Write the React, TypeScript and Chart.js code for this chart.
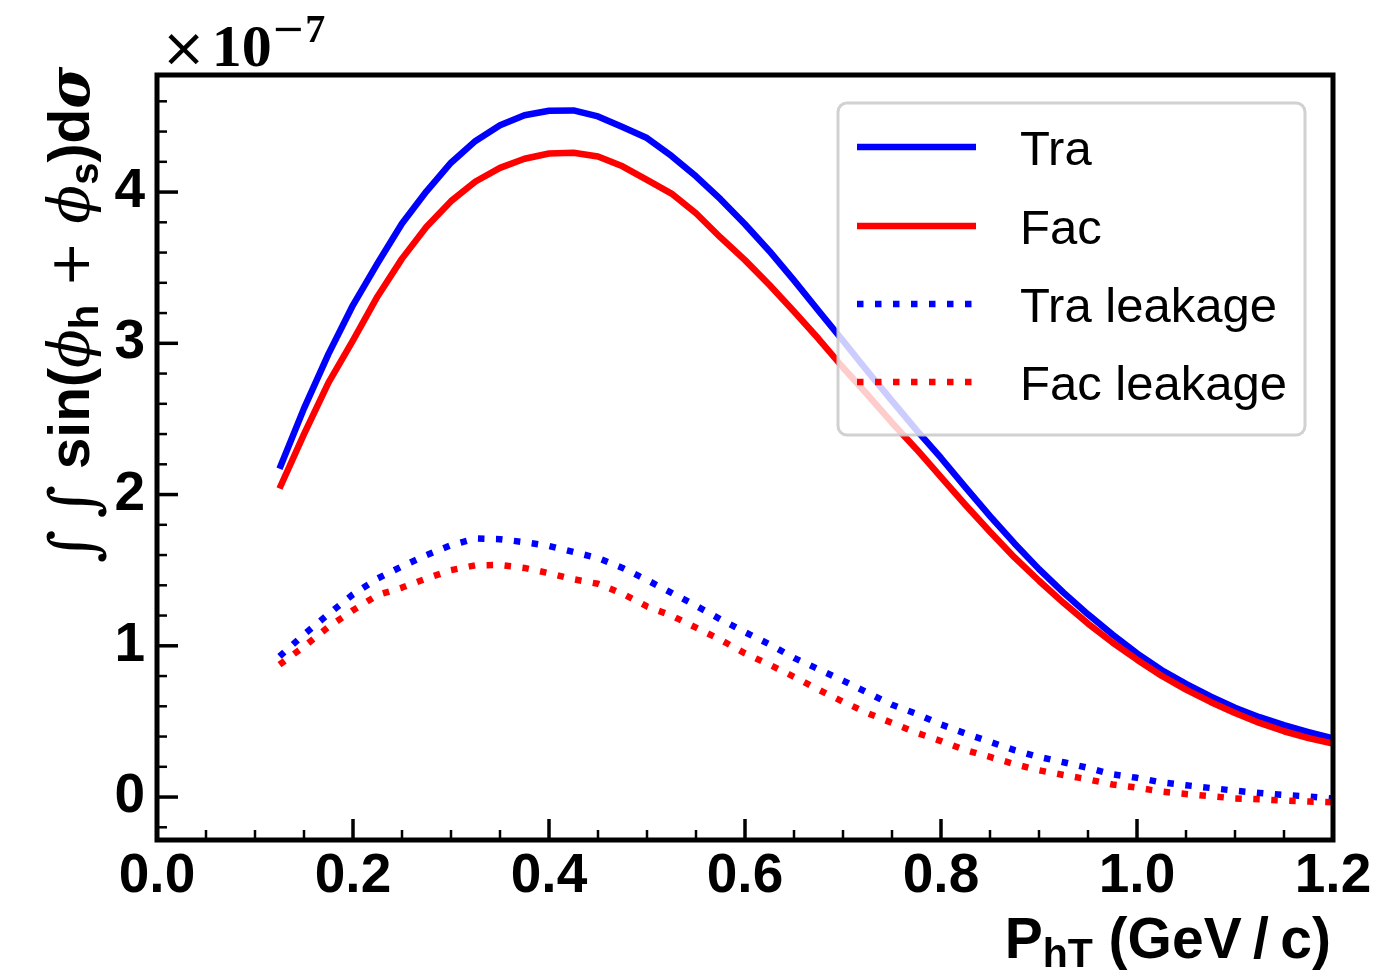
import React, { useEffect, useRef } from 'react';
import { Chart, registerables } from 'chart.js';

Chart.register(...registerables);

// ---------- data ----------
const pT = [
  0.125, 0.15, 0.175, 0.2, 0.225, 0.25, 0.275, 0.3, 0.325, 0.35, 0.375, 0.4, 0.425, 0.45, 0.475,
  0.5, 0.525, 0.55, 0.575, 0.6, 0.625, 0.65, 0.675, 0.7, 0.725, 0.75, 0.775, 0.8, 0.825, 0.85,
  0.875, 0.9, 0.925, 0.95, 0.975, 1.0, 1.025, 1.05, 1.075, 1.1, 1.125, 1.15, 1.175, 1.2,
];
const tra = [
  2.17, 2.57, 2.93, 3.253, 3.528, 3.792, 4.005, 4.194, 4.338, 4.441, 4.508, 4.538, 4.54, 4.5, 4.43,
  4.357, 4.239, 4.104, 3.953, 3.787, 3.609, 3.416, 3.215, 3.017, 2.815, 2.619, 2.426, 2.242, 2.047, 1.858,
  1.677, 1.507, 1.352, 1.208, 1.075, 0.95, 0.84, 0.748, 0.665, 0.59, 0.528, 0.475, 0.43, 0.388,
];
const fac = [
  2.04, 2.4, 2.74, 3.02, 3.31, 3.56, 3.77, 3.94, 4.07, 4.16, 4.22, 4.255, 4.26, 4.235, 4.17,
  4.08, 3.99, 3.86, 3.7, 3.55, 3.385, 3.21, 3.03, 2.84, 2.66, 2.475, 2.3, 2.115, 1.931, 1.754,
  1.584, 1.43, 1.284, 1.147, 1.022, 0.908, 0.802, 0.71, 0.629, 0.556, 0.49, 0.435, 0.39, 0.353,
];
const traLeak = [
  0.93, 1.075, 1.21, 1.34, 1.445, 1.525, 1.6, 1.665, 1.71, 1.705, 1.685, 1.66, 1.62, 1.58, 1.515,
  1.435, 1.35, 1.265, 1.175, 1.09, 1.01, 0.92, 0.845, 0.77, 0.69, 0.61, 0.55, 0.48, 0.42, 0.365,
  0.31, 0.265, 0.23, 0.193, 0.15, 0.127, 0.097, 0.078, 0.06, 0.042, 0.027, 0.014, 0.004, -0.01,
];
const facLeak = [
  0.875, 0.995, 1.125, 1.235, 1.335, 1.385, 1.445, 1.5, 1.532, 1.534, 1.515, 1.48, 1.44, 1.41, 1.345,
  1.26, 1.2, 1.12, 1.04, 0.95, 0.875, 0.795, 0.71, 0.63, 0.555, 0.49, 0.425, 0.37, 0.31, 0.265,
  0.218, 0.177, 0.146, 0.117, 0.083, 0.062, 0.036, 0.02, 0.006, -0.009, -0.015, -0.023, -0.03, -0.035,
];
const seriesLabels = ['Tra', 'Fac', 'Tra leakage', 'Fac leakage'];
const xTickValues = [0, 0.2, 0.4, 0.6, 0.8, 1.0, 1.2];
const yTickValues = [0, 1, 2, 3, 4];
const X_RANGE = [0, 1.2];
const Y_RANGE = [-0.284, 4.774];

// ---------- style ----------
const W = 1383;
const H = 975;

type Piece = { t: string; font: string; dy?: number };

function drawPieces(ctx: CanvasRenderingContext2D, pieces: Piece[], x: number, y: number, align: 'left' | 'center' | 'right') {
  ctx.save();
  ctx.textBaseline = 'alphabetic';
  ctx.textAlign = 'left';
  let total = 0;
  const widths = pieces.map((p) => {
    ctx.font = p.font;
    const w = ctx.measureText(p.t).width;
    total += w;
    return w;
  });
  let cx = align === 'left' ? x : align === 'center' ? x - total / 2 : x - total;
  pieces.forEach((p, i) => {
    ctx.font = p.font;
    ctx.fillText(p.t, cx, y + (p.dy || 0));
    cx += widths[i];
  });
  ctx.restore();
}

const decorPlugin = {
  id: 'decor',
  afterDraw(chart: any) {
    const ctx: CanvasRenderingContext2D = chart.ctx;
    const { left, right, top, bottom } = chart.chartArea;
    const xs = chart.scales.x;
    const ys = chart.scales.y;

    ctx.save();
    ctx.fillStyle = '#000';
    ctx.strokeStyle = '#000';
    ctx.lineCap = 'butt';

    // minor + major ticks pointing inward
    const drawXTick = (v: number, len: number, lw: number) => {
      const px = xs.getPixelForValue(v);
      ctx.lineWidth = lw;
      ctx.beginPath();
      ctx.moveTo(px, bottom);
      ctx.lineTo(px, bottom - len);
      ctx.stroke();
    };
    const drawYTick = (v: number, len: number, lw: number) => {
      const py = ys.getPixelForValue(v);
      ctx.lineWidth = lw;
      ctx.beginPath();
      ctx.moveTo(left, py);
      ctx.lineTo(left + len, py);
      ctx.stroke();
    };
    for (let k = 0; k <= 24; k++) {
      const v = k * 0.05;
      if (k % 4 === 0) drawXTick(v, 21, 3.5);
      else drawXTick(v, 10, 2.5);
    }
    for (let k = -1; k <= 23; k++) {
      const v = k * 0.2;
      if (v < Y_RANGE[0] || v > Y_RANGE[1]) continue;
      if (k % 5 === 0) drawYTick(v, 21, 3.5);
      else drawYTick(v, 10, 2.5);
    }

    // frame
    ctx.lineWidth = 5;
    ctx.strokeRect(left, top, right - left, bottom - top);

    // legend
    const lx = 838, ly = 103, lw = 467, lh = 332, r = 9;
    ctx.beginPath();
    ctx.moveTo(lx + r, ly);
    ctx.arcTo(lx + lw, ly, lx + lw, ly + lh, r);
    ctx.arcTo(lx + lw, ly + lh, lx, ly + lh, r);
    ctx.arcTo(lx, ly + lh, lx, ly, r);
    ctx.arcTo(lx, ly, lx + lw, ly, r);
    ctx.closePath();
    ctx.fillStyle = 'rgba(255,255,255,0.8)';
    ctx.fill();
    ctx.lineWidth = 3;
    ctx.strokeStyle = 'rgba(204,204,204,0.9)';
    ctx.stroke();

    const rows = [147, 226, 304, 382];
    chart.data.datasets.forEach((ds: any, i: number) => {
      const y = rows[i];
      ctx.save();
      ctx.strokeStyle = ds.borderColor;
      ctx.lineWidth = ds.borderWidth;
      ctx.setLineDash(ds.borderDash || []);
      ctx.lineCap = 'butt';
      ctx.beginPath();
      ctx.moveTo(857, y);
      ctx.lineTo(976, y);
      ctx.stroke();
      ctx.restore();
      ctx.fillStyle = '#000';
      ctx.font = '49px "Liberation Sans", Arial, sans-serif';
      ctx.textAlign = 'left';
      ctx.textBaseline = 'alphabetic';
      ctx.fillText(ds.label, 1020, y + 18);
    });

    // offset text ×10^-7
    ctx.fillStyle = '#000';
    drawPieces(ctx, [
      { t: '×', font: '54px "DejaVu Sans", sans-serif' },
      { t: '\u200A', font: '54px "DejaVu Sans", sans-serif' },
      { t: '10', font: 'bold 60px "Liberation Serif", serif' },
      { t: '\u2212', font: '40px "DejaVu Sans", sans-serif', dy: -24 },
      { t: '7', font: 'bold 40px "Liberation Serif", serif', dy: -24 },
    ], 161, 66, 'left');

    // x-axis title
    drawPieces(ctx, [
      { t: 'P', font: 'bold 57px "Liberation Sans", sans-serif' },
      { t: 'hT', font: 'bold 41px "Liberation Sans", sans-serif', dy: 9 },
      { t: ' (GeV\u2009/\u2009c)', font: 'bold 57px "Liberation Sans", sans-serif' },
    ], 1331, 958, 'right');

    // y-axis title (rotated)
    ctx.save();
    ctx.translate(89, 315);
    ctx.rotate(-Math.PI / 2);
    drawPieces(ctx, [
      { t: '∫', font: 'italic 64px "DejaVu Serif", serif', dy: 6 },
      { t: '\u2009', font: '57px "Liberation Sans", sans-serif' },
      { t: '∫', font: 'italic 64px "DejaVu Serif", serif', dy: 6 },
      { t: ' ', font: '57px "Liberation Sans", sans-serif' },
      { t: 'sin(', font: 'bold 57px "Liberation Sans", sans-serif' },
      { t: 'ϕ', font: 'italic 57px "DejaVu Serif", serif' },
      { t: 'h', font: 'bold 40px "Liberation Sans", sans-serif', dy: 9 },
      { t: ' + ', font: '55px "DejaVu Sans", sans-serif' },
      { t: 'ϕ', font: 'italic 57px "DejaVu Serif", serif' },
      { t: 's', font: 'bold 40px "Liberation Sans", sans-serif', dy: 9 },
      { t: ')d', font: 'bold 57px "Liberation Sans", sans-serif' },
      { t: 'σ', font: 'italic bold 57px "DejaVu Serif", serif' },
    ], 0, 0, 'center');
    ctx.restore();

    ctx.restore();
  },
};

export default function App() {
  const canvasRef = useRef<HTMLCanvasElement | null>(null);

  useEffect(() => {
    const canvas = canvasRef.current;
    if (!canvas) return;
    const mk = (vals: number[]) => pT.map((x, i) => ({ x, y: vals[i] }));
    const colors = ['#0000ff', '#ff0000', '#0000ff', '#ff0000'];
    const series = [tra, fac, traLeak, facLeak];
    const chart = new Chart(canvas, {
      type: 'line',
      data: {
        datasets: series.map((vals, i) => ({
          label: seriesLabels[i],
          data: mk(vals),
          borderColor: colors[i],
          backgroundColor: colors[i],
          borderWidth: 6.5,
          borderDash: i >= 2 ? [6.5, 11.5] : [],
          borderCapStyle: 'butt',
          borderJoinStyle: 'round',
          pointRadius: 0,
          tension: 0,
          fill: false,
          order: 4 - i,
        })),
      },
      options: {
        responsive: false,
        animation: false,
        devicePixelRatio: 1,
        layout: { padding: { top: 75, right: 50, left: 0, bottom: 0 } },
        plugins: { legend: { display: false }, tooltip: { enabled: false } },
        scales: {
          x: {
            type: 'linear',
            min: X_RANGE[0],
            max: X_RANGE[1],
            grid: { display: false, drawTicks: false },
            border: { display: false },
            afterBuildTicks: (s: any) => {
              s.ticks = xTickValues.map((v) => ({ value: v }));
            },
            afterFit: (s: any) => {
              s.height = H - 840;
            },
            ticks: {
              color: '#000',
              font: { family: '"Liberation Sans", Arial, sans-serif', size: 55, weight: 'bold' },
              padding: 4,
              maxRotation: 0,
              autoSkip: false,
              callback: (v: any) => Number(v).toFixed(1),
            },
          },
          y: {
            type: 'linear',
            min: Y_RANGE[0],
            max: Y_RANGE[1],
            grid: { display: false, drawTicks: false },
            border: { display: false },
            afterBuildTicks: (s: any) => {
              s.ticks = yTickValues.map((v) => ({ value: v }));
            },
            afterFit: (s: any) => {
              s.width = 157;
            },
            ticks: {
              color: '#000',
              font: { family: '"Liberation Sans", Arial, sans-serif', size: 55, weight: 'bold' },
              padding: 12,
              autoSkip: false,
              callback: (v: any) => String(Number(v)),
            },
          },
        },
      },
      plugins: [decorPlugin],
    } as any);
    return () => chart.destroy();
  }, []);

  return (
    <div style={{ position: 'fixed', left: 0, top: 0, width: W, height: H, background: '#fff' }}>
      <canvas ref={canvasRef} width={W} height={H} style={{ width: W, height: H, display: 'block' }} />
    </div>
  );
}
